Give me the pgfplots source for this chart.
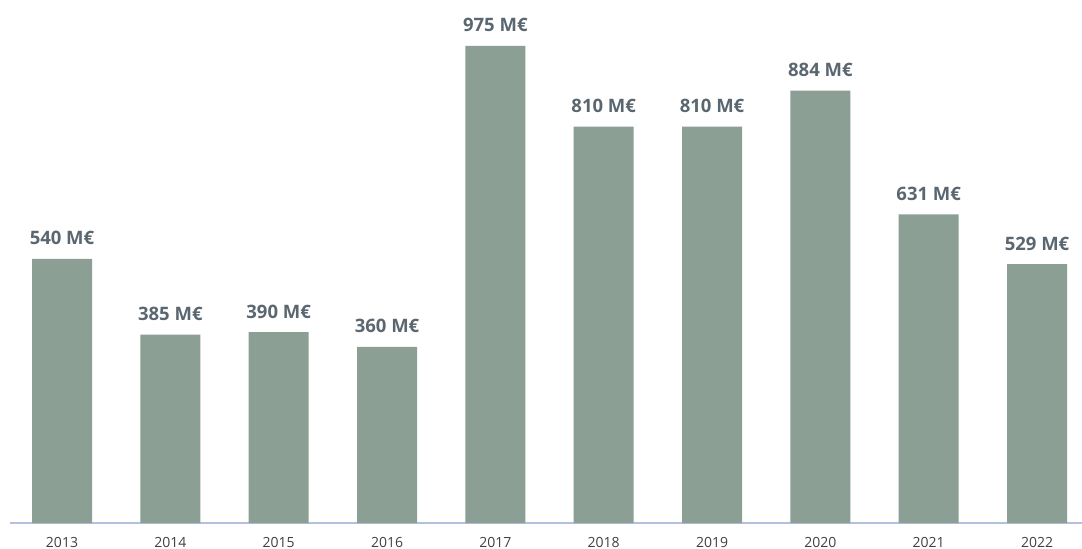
\documentclass[border=0pt]{standalone}
\usepackage{pgfplots}
\pgfplotsset{compat=1.18}
\usepackage{fontspec}
\setmainfont{Open Sans}
\definecolor{barc}{HTML}{8C9F94}
\definecolor{labc}{HTML}{5A6670}
\definecolor{tickc}{HTML}{404040}
\definecolor{axc}{HTML}{B4C0DC}
\begin{document}
\begin{tikzpicture}[x=1pt,y=1pt]
\begin{axis}[
  scale only axis,
  width=1072pt, height=523pt,
  at={(0pt,0pt)}, anchor=south west,
  xmin=-0.48, xmax=9.415,
  ymin=0, ymax=1069,
  axis y line=none,
  axis x line*=bottom,
  x axis line style={color=axc, line width=1.2pt, -},
  xtick={0,...,9},
  xticklabels={2013,2014,2015,2016,2017,2018,2019,2020,2021,2022},
  major tick length=0pt,
  xticklabel style={font=\fontsize{14}{16}\selectfont, color=tickc, anchor=base, yshift=-24pt, inner sep=0pt},
  ytick=\empty,
  ybar, bar width=60pt,
  /pgf/number format/assume math mode=true,
  nodes near coords={\pgfmathprintnumber[assume math mode=true]{\pgfplotspointmeta}~M€},
  every node near coord/.append style={font=\fontsize{18.5}{21}\selectfont\bfseries, color=labc, anchor=base, inner sep=0pt, yshift=14pt},
  clip=false,
]
\addplot[fill=barc, draw=none] coordinates {
(0,540) (1,385) (2,390) (3,360) (4,975) (5,810) (6,810) (7,884) (8,631) (9,529)
};
\end{axis}
\pgfresetboundingbox
\useasboundingbox (-10pt,-26pt) rectangle (1072pt,523pt);
\end{tikzpicture}
\end{document}
